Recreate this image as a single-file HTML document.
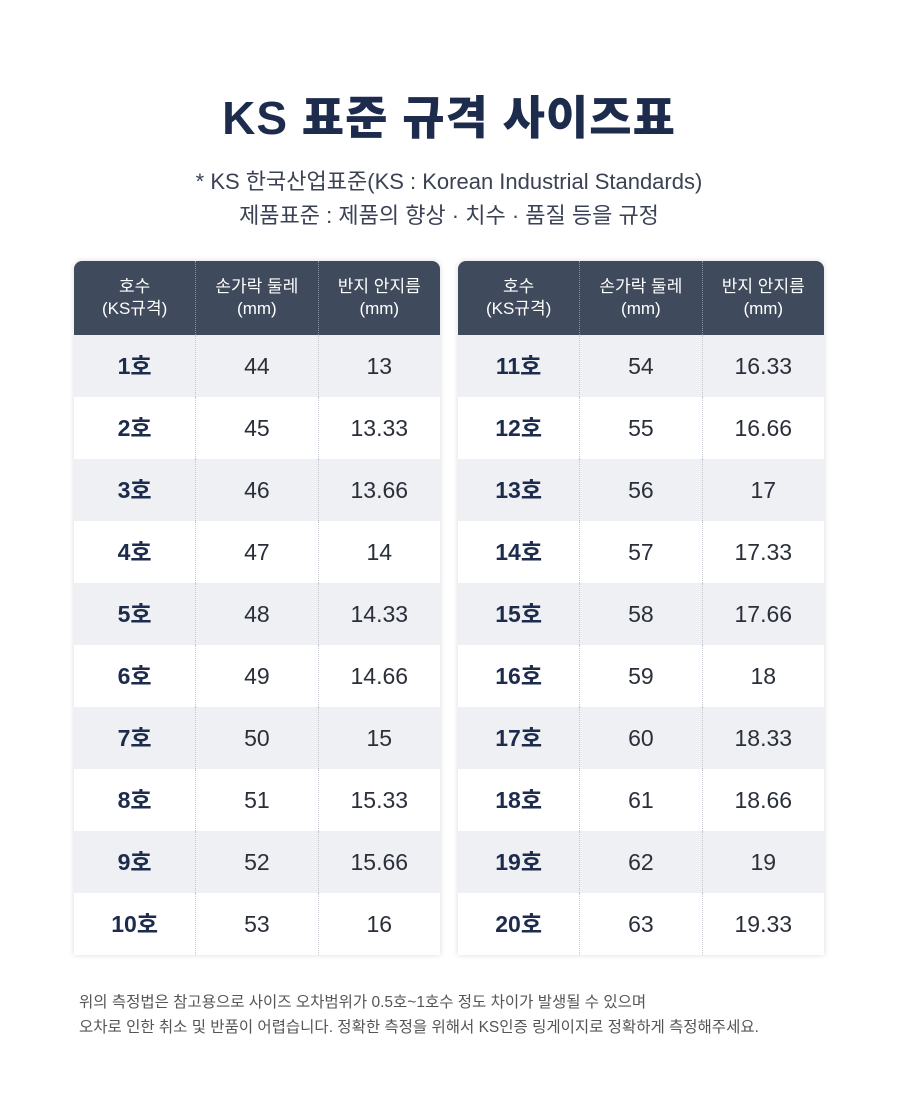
<!DOCTYPE html>
<html><head><meta charset="utf-8"><style>
body{margin:0;width:898px;height:1093px;background:#fff;font-family:"Liberation Sans","Noto Sans CJK KR",sans-serif;position:relative;overflow:hidden}
.t1{position:absolute;top:82px;left:0;width:898px;text-align:center;font-size:46px;font-weight:900;color:#1d2b4c;letter-spacing:1px}
.s{position:absolute;left:0;width:898px;text-align:center;font-size:22px;color:#3a4254}
table{position:absolute;top:261px;width:366px;border-collapse:collapse;box-shadow:0 0 6px rgba(0,0,0,.15);border-radius:8px 8px 0 0;overflow:hidden}
th{background:#3f4a5c;color:#fff;font-weight:normal;font-size:17px;line-height:22px;height:74px;padding:0;width:122px;border-left:1px dotted #8890a0}
th:first-child,td:first-child{border-left:none}
td{height:62px;padding:0;text-align:center;font-size:23px;line-height:24px;color:#2a2f3a;border-left:1px dotted #c4c8cf}
tr:nth-child(even) td{background:#eef0f3}
td:first-child{font-weight:bold;color:#1d2b4c}
td:first-child span{position:relative;top:0px}
.f{position:absolute;left:79px;font-size:15.5px;color:#555}
</style></head><body>
<div class="t1">KS 표준 규격 사이즈표</div>
<div class="s" style="top:164px">* KS 한국산업표준(KS : Korean Industrial Standards)</div>
<div class="s" style="top:198px">제품표준 : 제품의 향상 · 치수 · 품질 등을 규정</div>
<table style="left:74px">
<tr><th>호수<br>(KS규격)</th><th>손가락 둘레<br>(mm)</th><th>반지 안지름<br>(mm)</th></tr>
<tr><td><span>1호</span></td><td>44</td><td>13</td></tr>
<tr><td><span>2호</span></td><td>45</td><td>13.33</td></tr>
<tr><td><span>3호</span></td><td>46</td><td>13.66</td></tr>
<tr><td><span>4호</span></td><td>47</td><td>14</td></tr>
<tr><td><span>5호</span></td><td>48</td><td>14.33</td></tr>
<tr><td><span>6호</span></td><td>49</td><td>14.66</td></tr>
<tr><td><span>7호</span></td><td>50</td><td>15</td></tr>
<tr><td><span>8호</span></td><td>51</td><td>15.33</td></tr>
<tr><td><span>9호</span></td><td>52</td><td>15.66</td></tr>
<tr><td><span>10호</span></td><td>53</td><td>16</td></tr>
</table>
<table style="left:458px">
<tr><th>호수<br>(KS규격)</th><th>손가락 둘레<br>(mm)</th><th>반지 안지름<br>(mm)</th></tr>
<tr><td><span>11호</span></td><td>54</td><td>16.33</td></tr>
<tr><td><span>12호</span></td><td>55</td><td>16.66</td></tr>
<tr><td><span>13호</span></td><td>56</td><td>17</td></tr>
<tr><td><span>14호</span></td><td>57</td><td>17.33</td></tr>
<tr><td><span>15호</span></td><td>58</td><td>17.66</td></tr>
<tr><td><span>16호</span></td><td>59</td><td>18</td></tr>
<tr><td><span>17호</span></td><td>60</td><td>18.33</td></tr>
<tr><td><span>18호</span></td><td>61</td><td>18.66</td></tr>
<tr><td><span>19호</span></td><td>62</td><td>19</td></tr>
<tr><td><span>20호</span></td><td>63</td><td>19.33</td></tr>
</table>
<div class="f" style="top:990px">위의 측정법은 참고용으로 사이즈 오차범위가 0.5호~1호수 정도 차이가 발생될 수 있으며</div>
<div class="f" style="top:1015px">오차로 인한 취소 및 반품이 어렵습니다. 정확한 측정을 위해서 KS인증 링게이지로 정확하게 측정해주세요.</div>
</body></html>
